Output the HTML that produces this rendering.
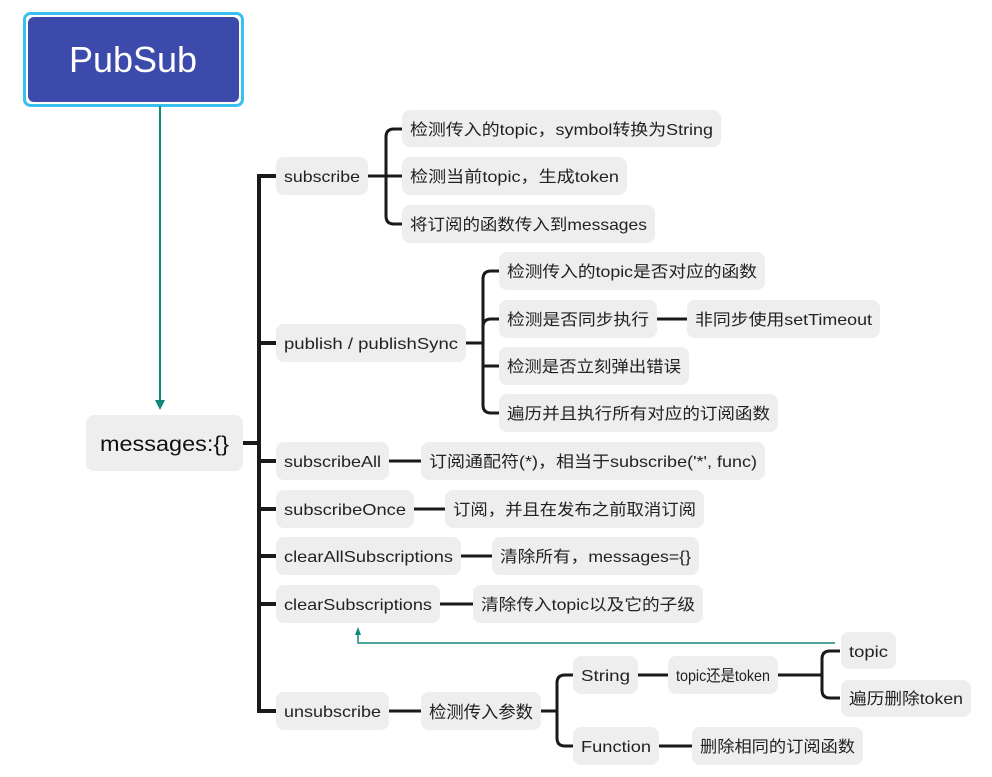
<!DOCTYPE html>
<html><head><meta charset="utf-8">
<style>
html,body{margin:0;padding:0;background:#fff;}
svg{display:block;}
text{font-family:"Liberation Sans","Noto Sans CJK SC",sans-serif;fill:#222;}
.n{fill:#eeeeee;}
.l{stroke:#1a1a1a;stroke-width:3;fill:none;}
</style></head><body>
<svg width="992" height="777" viewBox="0 0 992 777" xmlns="http://www.w3.org/2000/svg">
<!-- root -->
<rect x="24.5" y="13.5" width="218" height="92" rx="6" fill="#fff" stroke="#3ac0f0" stroke-width="3"/>
<rect x="28" y="17" width="211" height="85" rx="6" fill="#3b4aab"/>
<text x="133" y="72" text-anchor="middle" font-size="36" style="fill:#fff">PubSub</text>
<line x1="160" y1="106" x2="160" y2="400" stroke="#11897a" stroke-width="2"/>
<polygon points="155,400 165,400 160,410" fill="#11897a"/>

<!-- messages -->
<rect class="n" x="86" y="415" width="157" height="56" rx="8"/>
<text x="100" y="451" font-size="21" textLength="129" lengthAdjust="spacingAndGlyphs" style="fill:#111">messages:{}</text>

<!-- trunk -->
<path class="l" style="stroke-width:4" d="M243 443 H259 M276 176 H259 V711 H276 M259 343 H276 M259 461 H276 M259 509 H276 M259 556 H276 M259 604 H276"/>

<!-- subscribe children -->
<path class="l" d="M368 176 H402 M386 176 V137 Q386 129 394 129 H402 M386 176 V216 Q386 224 394 224 H402"/>
<!-- publish children -->
<path class="l" d="M466 343 H483 M483 343 V279 Q483 271 491 271 H499 M483 343 V327 Q483 319 491 319 H499 M483 343 V405 Q483 413 491 413 H499 M483 366 H499 M657 319 H687"/>
<path class="l" d="M389 461 H421 M414 509 H445 M461 556 H492 M440 604 H473"/>
<!-- unsubscribe -->
<path class="l" d="M389 711 H421 M541 711 H557 M557 711 V683 Q557 675 565 675 H573 M557 711 V738 Q557 746 565 746 H573 M638 675 H668 M659 746 H692 M778 675 H822 M822 675 V659 Q822 651 830 651 H840 M822 675 V690 Q822 698 830 698 H840"/>
<!-- teal back arrow -->
<path d="M835 643 H358 V634" stroke="#11897a" stroke-width="1.5" fill="none"/>
<polygon points="355,635 361,635 358,627" fill="#11897a"/>

<g font-size="16">
<rect class="n" x="276" y="157" width="92" height="38" rx="8"/><text x="284" y="182" textLength="76" lengthAdjust="spacingAndGlyphs">subscribe</text>
<rect class="n" x="276" y="324" width="190" height="38" rx="8"/><text x="284" y="349" textLength="174" lengthAdjust="spacingAndGlyphs">publish / publishSync</text>
<rect class="n" x="276" y="442" width="113" height="38" rx="8"/><text x="284" y="467" textLength="97" lengthAdjust="spacingAndGlyphs">subscribeAll</text>
<rect class="n" x="276" y="490" width="138" height="38" rx="8"/><text x="284" y="515" textLength="122" lengthAdjust="spacingAndGlyphs">subscribeOnce</text>
<rect class="n" x="276" y="537" width="185" height="38" rx="8"/><text x="284" y="562" textLength="169" lengthAdjust="spacingAndGlyphs">clearAllSubscriptions</text>
<rect class="n" x="276" y="585" width="164" height="38" rx="8"/><text x="284" y="610" textLength="148" lengthAdjust="spacingAndGlyphs">clearSubscriptions</text>
<rect class="n" x="276" y="692" width="113" height="38" rx="8"/><text x="284" y="717" textLength="97" lengthAdjust="spacingAndGlyphs">unsubscribe</text>

<rect class="n" x="402" y="110" width="319" height="37" rx="8"/><text x="410" y="135" textLength="303" lengthAdjust="spacingAndGlyphs">检测传入的topic，symbol转换为String</text>
<rect class="n" x="402" y="157" width="225" height="38" rx="8"/><text x="410" y="182" textLength="209" lengthAdjust="spacingAndGlyphs">检测当前topic，生成token</text>
<rect class="n" x="402" y="205" width="253" height="38" rx="8"/><text x="410" y="230" textLength="237" lengthAdjust="spacingAndGlyphs">将订阅的函数传入到messages</text>

<rect class="n" x="499" y="252" width="266" height="38" rx="8"/><text x="507" y="277" textLength="250" lengthAdjust="spacingAndGlyphs">检测传入的topic是否对应的函数</text>
<rect class="n" x="499" y="300" width="158" height="38" rx="8"/><text x="507" y="325" textLength="142" lengthAdjust="spacingAndGlyphs">检测是否同步执行</text>
<rect class="n" x="687" y="300" width="193" height="38" rx="8"/><text x="695" y="325" textLength="177" lengthAdjust="spacingAndGlyphs">非同步使用setTimeout</text>
<rect class="n" x="499" y="347" width="190" height="38" rx="8"/><text x="507" y="372" textLength="174" lengthAdjust="spacingAndGlyphs">检测是否立刻弹出错误</text>
<rect class="n" x="499" y="394" width="279" height="38" rx="8"/><text x="507" y="419" textLength="263" lengthAdjust="spacingAndGlyphs">遍历并且执行所有对应的订阅函数</text>

<rect class="n" x="421" y="442" width="344" height="38" rx="8"/><text x="429" y="467" textLength="328" lengthAdjust="spacingAndGlyphs">订阅通配符(*)，相当于subscribe('*', func)</text>
<rect class="n" x="445" y="490" width="259" height="38" rx="8"/><text x="453" y="515" textLength="243" lengthAdjust="spacingAndGlyphs">订阅，并且在发布之前取消订阅</text>
<rect class="n" x="492" y="537" width="207" height="38" rx="8"/><text x="500" y="562" textLength="191" lengthAdjust="spacingAndGlyphs">清除所有，messages={}</text>
<rect class="n" x="473" y="585" width="230" height="38" rx="8"/><text x="481" y="610" textLength="214" lengthAdjust="spacingAndGlyphs">清除传入topic以及它的子级</text>

<rect class="n" x="421" y="692" width="120" height="38" rx="8"/><text x="429" y="718" font-size="17" textLength="104" lengthAdjust="spacingAndGlyphs">检测传入参数</text>
<rect class="n" x="573" y="656" width="65" height="38" rx="8"/><text x="581" y="681" textLength="49" lengthAdjust="spacingAndGlyphs">String</text>
<rect class="n" x="668" y="656" width="110" height="38" rx="8"/><text x="676" y="681" textLength="94" lengthAdjust="spacingAndGlyphs">topic还是token</text>
<rect class="n" x="841" y="632" width="55" height="37" rx="8"/><text x="849" y="657" textLength="39" lengthAdjust="spacingAndGlyphs">topic</text>
<rect class="n" x="841" y="680" width="130" height="37" rx="8"/><text x="849" y="704" textLength="114" lengthAdjust="spacingAndGlyphs">遍历删除token</text>
<rect class="n" x="573" y="727" width="86" height="38" rx="8"/><text x="581" y="752" textLength="70" lengthAdjust="spacingAndGlyphs">Function</text>
<rect class="n" x="692" y="727" width="171" height="38" rx="8"/><text x="700" y="752" textLength="155" lengthAdjust="spacingAndGlyphs">删除相同的订阅函数</text>
</g>
</svg>
</body></html>
